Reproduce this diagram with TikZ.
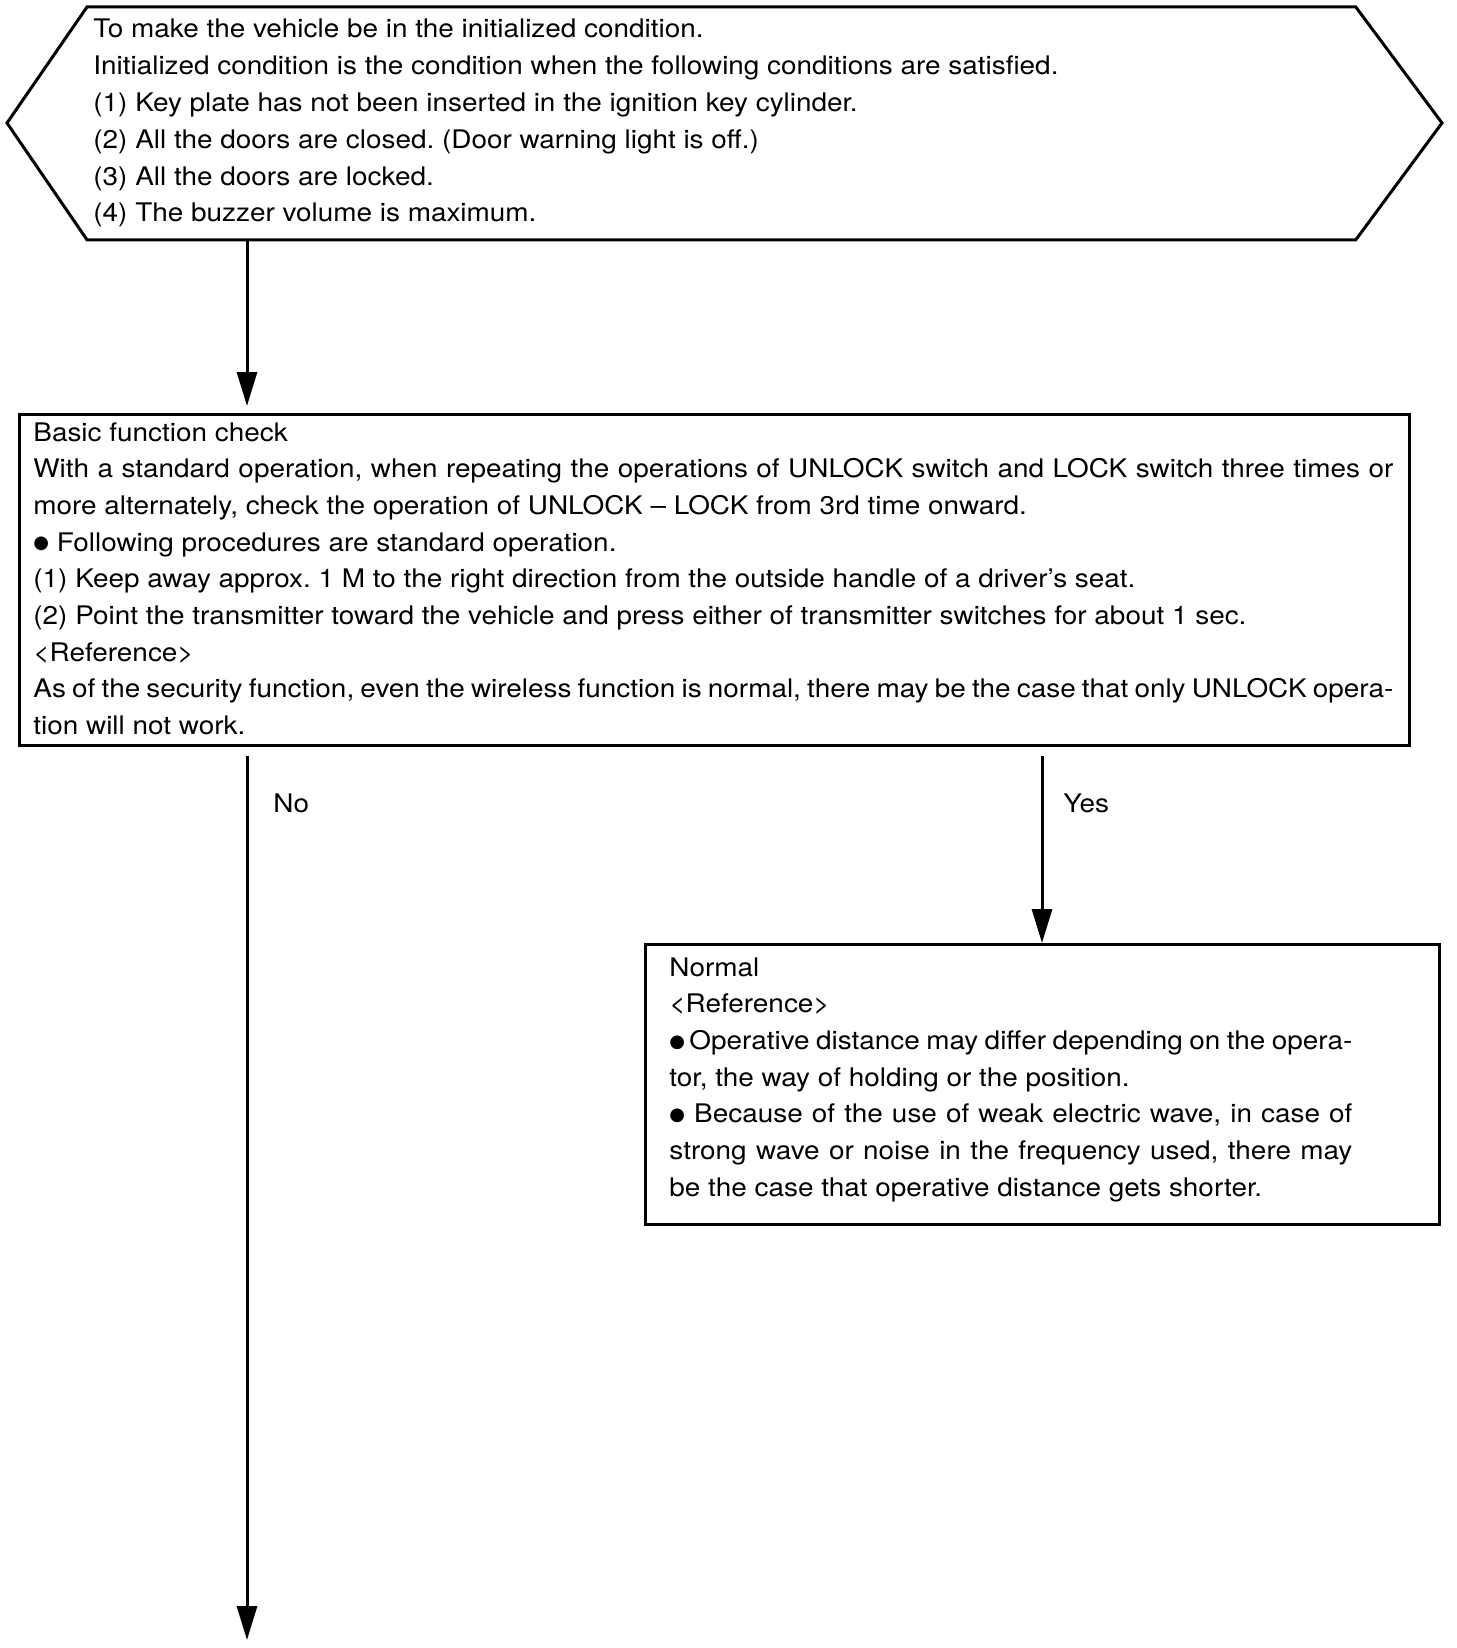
\documentclass[tikz,border=0pt]{standalone}
\usepackage{fontspec}
\setmainfont{TeX Gyre Heros}[FakeStretch=1.09]
\newfontfamily\symfont{DejaVu Sans}
\newcommand{\bul}{\raisebox{1.2pt}{\symfont\fontsize{9}{9}\selectfont ●}}
\usetikzlibrary{arrows.meta}
\frenchspacing
\begin{document}
\begin{tikzpicture}[x=0.5pt,y=-0.5pt,
  txt/.style={anchor=base west, inner sep=0pt, font=\fontsize{12.8}{14}\selectfont},
  frame/.style={draw, line width=1.5pt, inner sep=0pt, anchor=north west},
  arr/.style={line width=1.5pt, -{Triangle[length=17pt,width=10pt]}},
  ln/.style={line width=1.5pt}]
\useasboundingbox (0,0) rectangle (1456,1648);
% hexagon
\node[inner sep=0pt, anchor=north west, minimum width=634pt, minimum height=116pt] (hex) at (87,7) {};
\coordinate (hexL) at (7,123);
\coordinate (hexR) at (1442,123);
\draw[ln, line join=miter] (hex.north west) -- (hex.north east) -- (hexR) -- (hex.south east) -- (hex.south west) -- (hexL) -- cycle;
\foreach \t [count=\i from 0] in {
  {To make the vehicle be in the initialized condition.},
  {Initialized condition is the condition when the following conditions are satisfied.},
  {(1) Key plate has not been inserted in the ignition key cylinder.},
  {(2) All the doors are closed. (Door warning light is off.)},
  {(3) All the doors are locked.},
  {(4) The buzzer volume is maximum.}}
  \node[txt] (h\i) at (93,38+36.8*\i) {\t};
% box 1
\node[frame, minimum width=695pt, minimum height=165.5pt] (box1) at (18,413) {};
\node[txt] (b0) at (33,441) {Basic function check};
\node[txt] (b1) at (33,477.7) {\makebox[680pt][s]{With a standard operation, when repeating the operations of UNLOCK switch and LOCK switch three times or}};
\node[txt] (b2) at (33,514.4) {more alternately, check the operation of UNLOCK -- LOCK from 3rd time onward.};
\node[txt] (b3) at (33,551.1) {\bul\ Following procedures are standard operation.};
\node[txt] (b4) at (33,587.8) {(1) Keep away approx. 1 M to the right direction from the outside handle of a driver’s seat.};
\node[txt] (b5) at (33,624.5) {(2) Point the transmitter toward the vehicle and press either of transmitter switches for about 1 sec.};
\node[txt] (b6) at (33,661.2) {<Reference>};
\node[txt] (b7) at (33,697.9) {\makebox[680pt][s]{As of the security function, even the wireless function is normal, there may be the case that only UNLOCK opera-}};
\node[txt] (b8) at (33,734.6) {tion will not work.};
% box 2
\node[frame, minimum width=397pt, minimum height=140pt] (box2) at (644,943) {};
\node[txt] (n0) at (669,976) {Normal};
\node[txt] (n1) at (669,1012.7) {<Reference>};
\node[txt] (n2) at (669,1049.4) {\makebox[341.5pt][s]{\bul\,Operative distance may differ depending on the opera-}};
\node[txt] (n3) at (669,1086.1) {tor, the way of holding or the position.};
\node[txt] (n4) at (669,1122.8) {\makebox[341.5pt][s]{\bul\ Because of the use of weak electric wave, in case of}};
\node[txt] (n5) at (669,1159.5) {\makebox[341.5pt][s]{strong wave or noise in the frequency used, there may}};
\node[txt] (n6) at (669,1196.2) {be the case that operative distance gets shorter.};
% connectors
\coordinate (cx1) at (247,0);
\coordinate (cx2) at (1042,0);
\coordinate (endNo) at (247,1640);
\draw[arr, shorten >=3.5pt] (hex.south -| cx1) -- (box1.north -| cx1);
\draw[arr] ([yshift=-4.5pt]box1.south -| cx1) -- (endNo);
\draw[arr] ([yshift=-4.5pt]box1.south -| cx2) -- (box2.north -| cx2);
\node[txt] (no) at (273,812) {No};
\node[txt] (yes) at (1063,812) {Yes};
\end{tikzpicture}
\end{document}
